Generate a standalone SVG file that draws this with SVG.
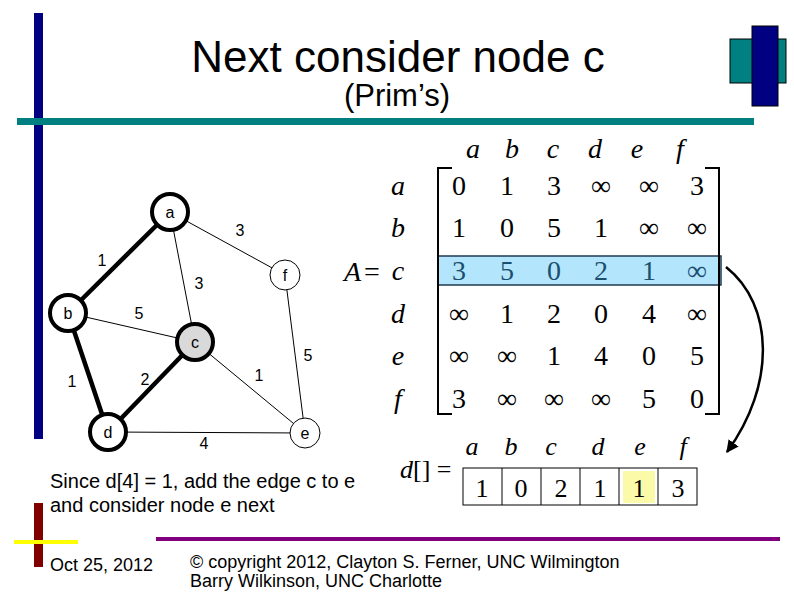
<svg xmlns="http://www.w3.org/2000/svg" width="794" height="595" viewBox="0 0 794 595">
<defs>
<style>
.sans{font-family:"Liberation Sans",Arial,sans-serif;fill:#000}
.serif{font-family:"Liberation Serif","Times New Roman",serif;fill:#000}
.it{font-style:italic}
.lbl{font-size:16px;text-anchor:middle}
.edge{stroke:#000;fill:none}
.thick{stroke-width:4.5}
.thin{stroke-width:1}
.node circle{fill:#fff;stroke:#000}
.mx{font-size:28px;text-anchor:middle}
.hd{font-size:28px;text-anchor:middle;font-style:italic}
.hl{fill:#1b4f6e}
</style>
<marker id="ah" viewBox="0 0 10 10" refX="9" refY="5" markerWidth="5" markerHeight="5" orient="auto">
<path d="M0,0 L10,5 L0,10 z" fill="#000"/>
</marker>
</defs>
<rect x="0" y="0" width="794" height="595" fill="#fff"/>
<!-- decorations -->
<g id="decor">
<rect x="34" y="13" width="9" height="426" fill="#000080"/>
<rect x="17" y="118" width="737" height="7" fill="#008080"/>
<rect x="730" y="39" width="56" height="44" fill="#008080" stroke="#000" stroke-width="1"/>
<rect x="752" y="26" width="26" height="80" fill="#000080" stroke="#000" stroke-width="1"/>
<rect x="34" y="503" width="9" height="64" fill="#800000"/>
<rect x="14" y="540" width="64" height="4" fill="#ffff00"/>
<rect x="156" y="537" width="624" height="4" fill="#800080"/>
</g>
<text class="sans" x="398" y="72" font-size="44" text-anchor="middle">Next consider node c</text>
<text class="sans" x="397" y="106" font-size="31" text-anchor="middle">(Prim’s)</text>
<!-- connectors -->
<g id="connectors">
<line class="edge thick" x1="170" y1="212" x2="68" y2="313"/>
<line class="edge thin" x1="170" y1="212" x2="285" y2="275"/>
<line class="edge thin" x1="170" y1="212" x2="195" y2="342"/>
<line class="edge thin" x1="68" y1="313" x2="195" y2="342"/>
<line class="edge thick" x1="68" y1="313" x2="108" y2="432"/>
<line class="edge thick" x1="195" y1="342" x2="108" y2="432"/>
<line class="edge thin" x1="195" y1="342" x2="305" y2="433"/>
<line class="edge thin" x1="285" y1="275" x2="305" y2="433"/>
<line class="edge thin" x1="108" y1="432" x2="305" y2="433"/>
<text class="sans lbl" x="102" y="266">1</text>
<text class="sans lbl" x="240" y="236">3</text>
<text class="sans lbl" x="199" y="289">3</text>
<text class="sans lbl" x="139" y="319">5</text>
<text class="sans lbl" x="72" y="387">1</text>
<text class="sans lbl" x="145" y="385">2</text>
<text class="sans lbl" x="259" y="381">1</text>
<text class="sans lbl" x="308" y="361">5</text>
<text class="sans lbl" x="204" y="449">4</text>
<path d="M726,267 C774,305 776,385 727,452" fill="none" stroke="#000" stroke-width="2.5" marker-end="url(#ah)"/>
</g>
<!-- nodes -->
<g id="node-a" class="node"><circle cx="170" cy="212" r="18" stroke-width="4"/><text class="sans lbl" x="170" y="218">a</text></g>
<g id="node-b" class="node"><circle cx="68" cy="313" r="18" stroke-width="4"/><text class="sans lbl" x="68" y="319">b</text></g>
<g id="node-c" class="node"><circle cx="195" cy="342" r="18" stroke-width="4" style="fill:#d9d9d9"/><text class="sans lbl" x="195" y="348">c</text></g>
<g id="node-d" class="node"><circle cx="108" cy="432" r="18" stroke-width="4"/><text class="sans lbl" x="108" y="438">d</text></g>
<g id="node-e" class="node"><circle cx="305" cy="433" r="15" stroke-width="1"/><text class="sans lbl" x="305" y="439">e</text></g>
<g id="node-f" class="node"><circle cx="285" cy="275" r="15" stroke-width="1"/><text class="sans lbl" x="285" y="281">f</text></g>
<!-- matrix -->
<g id="matrix">
<rect x="438" y="256" width="283" height="29" fill="#b3e5fc" stroke="#1f3a4f" stroke-width="1.5"/>
<path d="M452,168 H438 V414 H452 M705,168 H719 V414 H705" fill="none" stroke="#000" stroke-width="2"/>
<text class="serif it" x="344" y="281" font-size="28">A</text>
<text class="serif" x="364" y="281" font-size="28">=</text>
<g class="serif hd">
<text x="473" y="158">a</text><text x="512" y="158">b</text><text x="553" y="158">c</text><text x="595" y="158">d</text><text x="637" y="158">e</text><text x="680" y="158">f</text>
<text x="398" y="195">a</text><text x="398" y="237">b</text><text x="398" y="280">c</text><text x="398" y="323">d</text><text x="398" y="365">e</text><text x="398" y="408">f</text>
</g>
<g class="serif mx">
<text x="459" y="195">0</text><text x="507" y="195">1</text><text x="554" y="195">3</text><text x="601" y="195">∞</text><text x="649" y="195">∞</text><text x="697" y="195">3</text>
<text x="459" y="237">1</text><text x="507" y="237">0</text><text x="554" y="237">5</text><text x="601" y="237">1</text><text x="649" y="237">∞</text><text x="697" y="237">∞</text>
<g class="hl"><text x="459" y="280">3</text><text x="507" y="280">5</text><text x="554" y="280">0</text><text x="601" y="280">2</text><text x="649" y="280">1</text><text x="697" y="280">∞</text></g>
<text x="459" y="323">∞</text><text x="507" y="323">1</text><text x="554" y="323">2</text><text x="601" y="323">0</text><text x="649" y="323">4</text><text x="697" y="323">∞</text>
<text x="459" y="365">∞</text><text x="507" y="365">∞</text><text x="554" y="365">1</text><text x="601" y="365">4</text><text x="649" y="365">0</text><text x="697" y="365">5</text>
<text x="459" y="408">3</text><text x="507" y="408">∞</text><text x="554" y="408">∞</text><text x="601" y="408">∞</text><text x="649" y="408">5</text><text x="697" y="408">0</text>
</g>
</g>
<!-- d array -->
<g id="darray">
<text class="serif" x="400" y="478" font-size="26"><tspan font-style="italic">d</tspan>[] =</text>
<rect x="623" y="471" width="32" height="32" fill="#fafaa8"/>
<rect x="463" y="468" width="234" height="37" fill="none" stroke="#000" stroke-width="1"/>
<path d="M502,468 V505 M541,468 V505 M580,468 V505 M619,468 V505 M658,468 V505" stroke="#000" stroke-width="1"/>
<g class="serif" font-size="26" font-style="italic" text-anchor="middle">
<text x="472" y="455">a</text><text x="511" y="455">b</text><text x="551" y="455">c</text><text x="598" y="455">d</text><text x="640" y="455">e</text><text x="683" y="455">f</text>
</g>
<g class="serif" font-size="26" text-anchor="middle">
<text x="482" y="497">1</text><text x="521" y="497">0</text><text x="561" y="497">2</text><text x="600" y="497">1</text><text x="639" y="497">1</text><text x="678" y="497">3</text>
</g>
</g>
<text class="sans" x="50" y="488" font-size="20">Since d[4] = 1, add the edge c to e</text>
<text class="sans" x="50" y="512" font-size="20">and consider node e next</text>
<text class="sans" x="50" y="571" font-size="18">Oct 25, 2012</text>
<text class="sans" x="190" y="568" font-size="18">© copyright 2012, Clayton S. Ferner, UNC Wilmington</text>
<text class="sans" x="190" y="587" font-size="18">Barry Wilkinson, UNC Charlotte</text>
</svg>
